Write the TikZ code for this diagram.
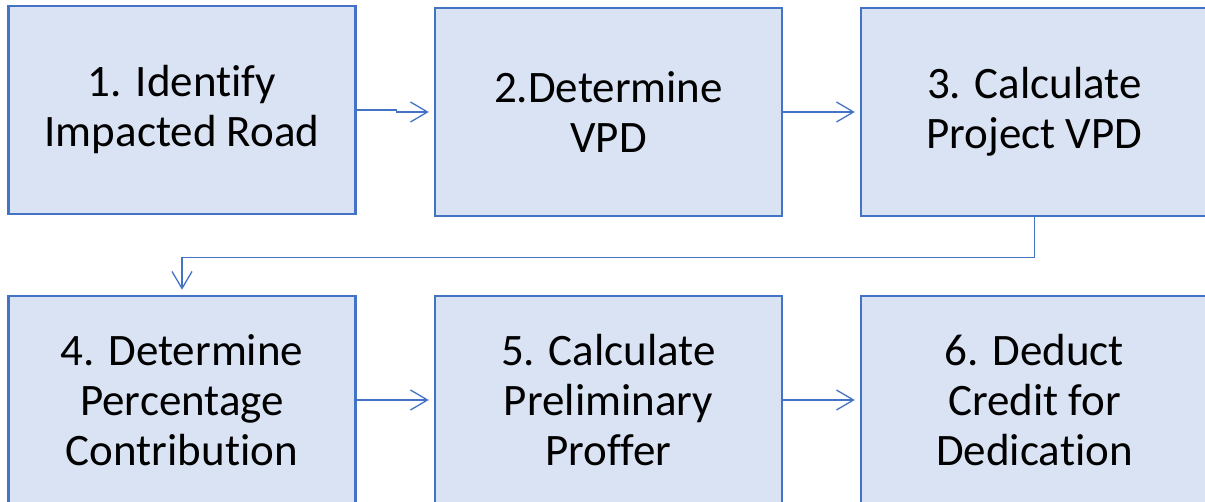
\documentclass[tikz,border=0pt]{standalone}
\usepackage{fontspec}
\setmainfont[Ligatures=NoCommon]{Carlito}
\usetikzlibrary{arrows.meta}
\definecolor{boxfill}{HTML}{DAE3F3}
\definecolor{boxline}{HTML}{4472C4}
\tikzset{
  stepbox/.style={draw=boxline, line width=2.5pt, fill=boxfill,
    minimum width=347pt, minimum height=208pt, inner sep=0pt,
    align=center, font=\fontsize{45}{50}\selectfont},
  link/.style={draw=boxline, line width=1.3pt, shorten >=5pt,
    -{Straight Barb[length=17pt,width=20pt]}}
}
\begin{document}
\begin{tikzpicture}[x=1pt,y=-1pt]
      \useasboundingbox (0,0) rectangle (1205,502);
      \draw
        (182,110) node[stepbox] (1){1. Identify\\Impacted Road}
        (608.5,112) node[stepbox] (2){2.Determine\\VPD}
        (1034.5,112) node[stepbox] (3){3. Calculate\\Project VPD}
        (182,400) node[stepbox] (4){4. Determine\\Percentage\\Contribution}
        (608.5,400) node[stepbox] (5){5. Calculate\\Preliminary\\Proffer}
        (1034.5,400) node[stepbox] (6){6. Deduct\\Credit for\\Dedication};
      \begin{scope}[link]
        \draw (1.east) -- ++(40,0) |- (2.west);
        \draw (2) to (3);
        \draw (3.south) -- ++(0,40) -| (4.north);
        \draw (4) to (5);
        \draw (5) to (6);
      \end{scope}
    \end{tikzpicture}
\end{document}
